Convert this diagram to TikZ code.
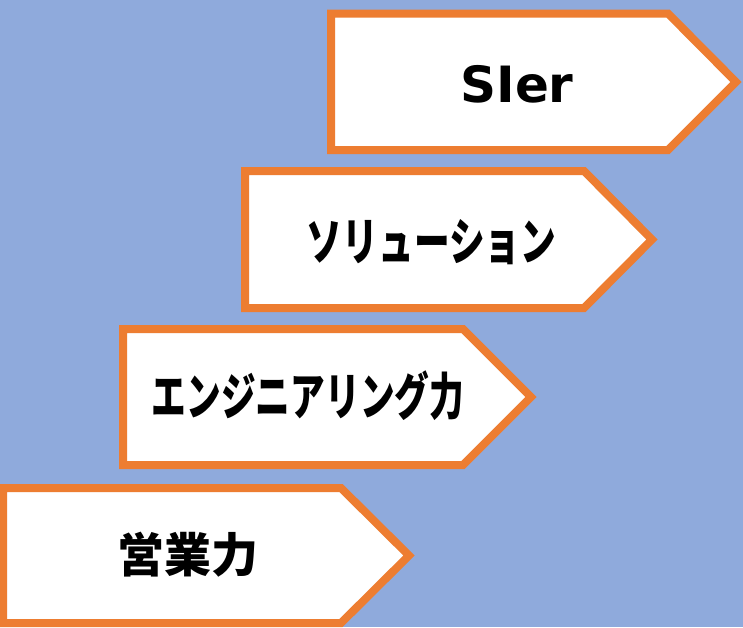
\documentclass[tikz,border=0pt]{standalone}
\usepackage{fontspec}
\newfontfamily\jp{Noto Sans CJK JP}
\newfontfamily\lat{DejaVu Sans}
\definecolor{bgblue}{HTML}{8FAADC}
\definecolor{orangeC}{HTML}{ED7D31}
\begin{document}
\begin{tikzpicture}[x=1pt,y=-1pt,
  arrowshape/.style={draw=orangeC, fill=white, line width=8pt, line join=miter, miter limit=10},
  jplabel/.style={inner sep=0pt, font=\jp\bfseries\fontsize{47}{50}\selectfont, text=black},
  kanalabel/.style={inner sep=0pt, font=\jp\bfseries\fontsize{51}{54}\selectfont, text=black},
  latlabel/.style={inner sep=0pt, font=\lat\bfseries\fontsize{50}{54}\selectfont, text=black}]
\useasboundingbox (0,0) rectangle (743,627);
\fill[bgblue] (0,0) rectangle (743,627);
\clip (0,0) rectangle (743,627);
% arrows
\draw[arrowshape] (331,13.5) -- (668,13.5) -- (736,82) -- (668,150) -- (331,150) -- cycle;
\draw[arrowshape] (245,171) -- (584,171) -- (652,239.5) -- (584,308) -- (245,308) -- cycle;
\draw[arrowshape] (123,329) -- (463,329) -- (531,397) -- (463,465) -- (123,465) -- cycle;
\draw[arrowshape] (3,488) -- (341,488) -- (409,555.5) -- (341,623) -- (3,623) -- cycle;
% labels
\node[latlabel] (sier) at (517,84) {SIer};
\node[kanalabel] (sol) at (431.5,242) {\scalebox{0.70}[1]{ソリューション}};
\node[kanalabel] (eng) at (308,396) {\scalebox{0.68}[1]{エンジニアリング力}};
\node[jplabel] (sales) at (187.5,554.5) {営業力};
\end{tikzpicture}
\end{document}
